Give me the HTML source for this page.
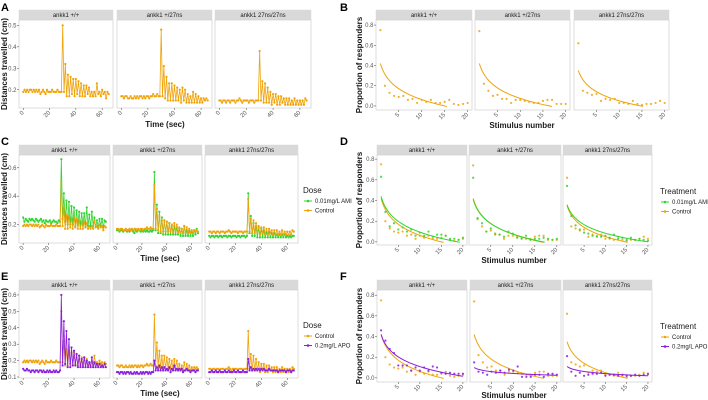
<!DOCTYPE html>
<html><head><meta charset="utf-8">
<style>
html,body{margin:0;padding:0;background:#fff;}
svg{display:block;font-family:"Liberation Sans",sans-serif;}
</style></head>
<body>
<svg id="fig" width="708" height="400" viewBox="0 0 708 400"></svg>
<script>
// ---------- data ----------
const genotypes = ["ankk1 +/+", "ankk1 +/27ns", "ankk1 27ns/27ns"];
const timeTicks = [0, 20, 40, 60];
const stimTicks = [5, 10, 15, 20];
const ctrlTime = [
[0.19,0.20,0.19,0.20,0.19,0.20,0.20,0.19,0.20,0.19,0.20,0.19,0.20,0.18,0.19,0.20,0.19,0.18,0.20,0.19,0.19,0.19,0.20,0.19,0.19,0.19,0.20,0.19,0.19,0.19,
 0.50,0.19,0.32,0.17,0.27,0.17,0.26,0.18,0.25,0.17,0.25,0.18,0.24,0.17,0.23,0.17,0.22,0.17,0.22,0.18,0.21,0.17,0.19,0.17,0.19,0.17,0.23,0.18,0.19,0.17,0.20,0.18,0.19,0.16,0.19,0.18],
[0.17,0.17,0.16,0.17,0.17,0.16,0.16,0.17,0.16,0.16,0.17,0.16,0.17,0.16,0.17,0.17,0.16,0.17,0.16,0.17,0.17,0.16,0.17,0.17,0.18,0.17,0.17,0.18,0.17,0.17,
 0.48,0.17,0.31,0.16,0.26,0.15,0.23,0.15,0.23,0.15,0.22,0.15,0.21,0.15,0.20,0.14,0.21,0.15,0.20,0.14,0.18,0.14,0.17,0.14,0.19,0.14,0.18,0.14,0.17,0.14,0.16,0.14,0.16,0.15,0.16,0.15],
[0.15,0.15,0.14,0.15,0.15,0.14,0.15,0.15,0.14,0.15,0.15,0.15,0.14,0.15,0.15,0.16,0.15,0.14,0.15,0.15,0.15,0.15,0.14,0.15,0.15,0.15,0.14,0.15,0.15,0.15,
 0.38,0.15,0.24,0.14,0.23,0.14,0.21,0.14,0.19,0.13,0.18,0.14,0.18,0.13,0.17,0.13,0.17,0.14,0.16,0.13,0.16,0.13,0.16,0.13,0.15,0.13,0.16,0.13,0.15,0.13,0.15,0.13,0.15,0.13,0.16,0.15]];
const amiTime = [
[0.25,0.22,0.24,0.23,0.22,0.24,0.23,0.24,0.23,0.22,0.24,0.23,0.22,0.23,0.24,0.22,0.23,0.21,0.23,0.22,0.22,0.23,0.21,0.22,0.23,0.22,0.22,0.21,0.23,0.22,
 0.66,0.24,0.42,0.22,0.37,0.20,0.36,0.20,0.33,0.20,0.32,0.19,0.30,0.20,0.29,0.19,0.28,0.20,0.28,0.19,0.32,0.19,0.27,0.18,0.29,0.19,0.25,0.18,0.23,0.18,0.24,0.19,0.24,0.18,0.23,0.22],
[0.16,0.16,0.15,0.16,0.16,0.15,0.16,0.16,0.15,0.16,0.15,0.16,0.16,0.15,0.14,0.16,0.15,0.16,0.16,0.15,0.16,0.15,0.16,0.15,0.16,0.15,0.15,0.16,0.15,0.16,
 0.57,0.16,0.34,0.14,0.29,0.14,0.25,0.13,0.23,0.13,0.22,0.13,0.21,0.13,0.19,0.13,0.19,0.13,0.18,0.13,0.17,0.12,0.17,0.12,0.19,0.12,0.16,0.12,0.16,0.12,0.15,0.12,0.16,0.13,0.17,0.14],
[0.12,0.11,0.12,0.12,0.11,0.12,0.12,0.11,0.12,0.12,0.11,0.12,0.12,0.12,0.11,0.12,0.12,0.11,0.12,0.12,0.12,0.11,0.12,0.12,0.11,0.12,0.12,0.12,0.11,0.12,
 0.42,0.14,0.26,0.12,0.21,0.12,0.19,0.11,0.18,0.11,0.17,0.11,0.16,0.11,0.15,0.11,0.15,0.11,0.14,0.11,0.14,0.11,0.13,0.11,0.13,0.11,0.13,0.11,0.13,0.11,0.12,0.11,0.12,0.11,0.12,0.12]];
const apoTime = [
[0.15,0.14,0.14,0.15,0.14,0.14,0.13,0.14,0.14,0.13,0.14,0.14,0.13,0.14,0.14,0.13,0.14,0.13,0.13,0.14,0.13,0.14,0.13,0.13,0.14,0.13,0.14,0.13,0.13,0.14,
 0.60,0.17,0.44,0.18,0.38,0.16,0.33,0.16,0.28,0.17,0.26,0.17,0.24,0.16,0.23,0.16,0.21,0.16,0.22,0.16,0.20,0.16,0.19,0.16,0.22,0.16,0.19,0.16,0.18,0.16,0.18,0.16,0.17,0.16,0.18,0.16],
[0.13,0.13,0.12,0.13,0.13,0.12,0.13,0.12,0.13,0.13,0.12,0.13,0.12,0.12,0.13,0.12,0.13,0.12,0.12,0.13,0.12,0.13,0.12,0.13,0.13,0.12,0.13,0.12,0.13,0.13,
 0.20,0.14,0.16,0.14,0.17,0.14,0.16,0.14,0.16,0.14,0.15,0.14,0.16,0.13,0.15,0.14,0.17,0.14,0.15,0.14,0.15,0.14,0.15,0.13,0.14,0.14,0.15,0.14,0.14,0.13,0.14,0.14,0.14,0.13,0.14,0.14],
[0.13,0.13,0.14,0.13,0.13,0.14,0.13,0.13,0.14,0.13,0.13,0.13,0.14,0.13,0.13,0.14,0.13,0.13,0.13,0.14,0.13,0.13,0.14,0.13,0.13,0.13,0.14,0.13,0.13,0.13,
 0.21,0.14,0.16,0.14,0.15,0.14,0.15,0.14,0.15,0.14,0.15,0.14,0.15,0.14,0.14,0.14,0.15,0.14,0.14,0.14,0.14,0.14,0.14,0.13,0.14,0.14,0.14,0.14,0.14,0.13,0.14,0.14,0.14,0.13,0.14,0.14]];
const ctrlResp = [
[0.75,0.20,0.13,0.10,0.09,0.10,0.06,0.07,0.03,0.06,0.04,0.06,0.03,0.03,0.04,0.06,0.02,0.01,0.02,0.03],
[0.74,0.22,0.15,0.10,0.11,0.07,0.07,0.03,0.06,0.06,0.05,0.04,0.03,0.03,0.05,0.06,0.06,0.02,0.02,0.02],
[0.62,0.15,0.13,0.11,0.12,0.05,0.07,0.06,0.07,0.03,0.03,0.02,0.05,0.02,0.01,0.02,0.02,0.03,0.05,0.03]];
const amiResp = [
[0.63,0.29,0.15,0.18,0.12,0.14,0.10,0.12,0.06,0.09,0.06,0.10,0.05,0.07,0.07,0.06,0.03,0.03,0.02,0.04],
[0.62,0.23,0.18,0.10,0.13,0.08,0.07,0.05,0.10,0.08,0.04,0.03,0.06,0.02,0.03,0.03,0.04,0.03,0.02,0.03],
[0.54,0.25,0.16,0.12,0.09,0.08,0.06,0.05,0.05,0.06,0.04,0.07,0.03,0.04,0.02,0.04,0.02,0.03,0.02,0.01]];
const apoResp = [
[0.46,0.36,0.28,0.24,0.12,0.12,0.12,0.07,0.10,0.07,0.10,0.07,0.11,0.10,0.05,0.04,0.05,0.04,0.04,0.04],
[0.15,0.06,0.05,0.03,0.06,0.05,0.07,0.05,0.08,0.07,0.11,0.01,0.01,0.01,0.03,0.03,0.01,0.04,0.04,0.03],
[0.21,0.06,0.02,0.05,0.02,0.03,0.04,0.04,0.05,0.02,0.03,0.03,0.02,0.03,0.02,0.02,0.03,0.02,0.03,0.04]];
// log-fit coefficients: y = a + b*ln(stimulus)
const ctrlFitA = [0.42, 0.42, 0.35];
const ctrlFitB = [-0.155, -0.15, -0.13];
const amiFitA = [0.44, 0.41, 0.36];
const amiFitB = [-0.15, -0.145, -0.12];
const apoFitA = [0.42, 0.10, 0.11];
const apoFitB = [-0.135, -0.025, -0.03];

const ORANGE = "#f0a30a", GREEN = "#2fd52f", PURPLE = "#8a1ee0";
const NS = "http://www.w3.org/2000/svg";
const svg = document.getElementById("fig");
function el(tag, attrs, parent, text) {
  const e = document.createElementNS(NS, tag);
  for (const k in attrs) e.setAttribute(k, attrs[k]);
  if (text !== undefined) e.textContent = text;
  (parent || svg).appendChild(e);
  return e;
}
function scale(d0, d1, r0, r1) { return v => r0 + (v - d0) / (d1 - d0) * (r1 - r0); }

function facetRow(cfg) {
  const g = el("g", {});
  
  
  cfg.panels.forEach((p, i) => {
    const pg = el("g", {}, g);
    
    
    const st = el("rect", {x: p[0], y: cfg.stripY, width: p[1] - p[0], height: cfg.plotTop - cfg.stripY, fill: "#d9d9d9", stroke: "#d9d9d9", "stroke-width": 0.5}, pg);
    
    
    const stt = el("text", {x: (p[0] + p[1]) / 2, y: cfg.plotTop - 2.8, "font-size": 6, fill: "#1a1a1a", "text-anchor": "middle"}, pg, genotypes[i]);
    
    
    const bg = el("rect", {x: p[0], y: cfg.plotTop, width: p[1] - p[0], height: cfg.plotBot - cfg.plotTop, fill: "#fff", stroke: "#d0d0d0", "stroke-width": 0.7}, pg);
    
    
    const sx = scale(cfg.xd[0], cfg.xd[1], p[0], p[1]);
    const sy = scale(cfg.yd[0], cfg.yd[1], cfg.plotBot, cfg.plotTop);
    cfg.xticks.forEach(t => {
      const x = sx(t);
      el("line", {x1: x, x2: x, y1: cfg.plotBot, y2: cfg.plotBot + 2, stroke: "#444", "stroke-width": 0.5}, pg);
      const tl = el("text", {x: x + 1, y: cfg.plotBot + 5, "font-size": 6, fill: "#555", "text-anchor": "end", transform: `rotate(-45 ${x + 1} ${cfg.plotBot + 5})`}, pg, String(t));
      
      
    });
    if (i === 0) {
      cfg.yticks.forEach(t => {
        const y = sy(t);
        el("line", {x1: p[0] - 2, x2: p[0], y1: y, y2: y, stroke: "#444", "stroke-width": 0.5}, pg);
        const yl = el("text", {x: p[0] - 2.5, y: y + 2, "font-size": 6, fill: "#555", "text-anchor": "end"}, pg, t.toFixed(1));
        
        
      });
    }
    cfg.draw(pg, i, sx, sy);
  });
  const xt = el("text", {x: cfg.xTitle[0], y: cfg.xTitle[1], "font-size": 8, "font-weight": "bold", fill: "#1a1a1a", "text-anchor": "middle"}, g, cfg.xTitleText);
  
  
  const cy = (cfg.plotTop + cfg.plotBot) / 2;
  const yt = el("text", {x: cfg.yTitleX, y: cy, "font-size": 8, "font-weight": "bold", fill: "#1a1a1a", "text-anchor": "middle", transform: `rotate(-90 ${cfg.yTitleX} ${cy})`}, g, cfg.yTitleText);
  
  
}

function timeSeries(pg, vals, color, sx, sy) {
  const pts = vals.map((v, t) => sx(t).toFixed(2) + "," + sy(v).toFixed(2)).join(" ");
  const pl = el("polyline", {points: pts, fill: "none", stroke: color, "stroke-width": 0.8}, pg);
  
  
  vals.forEach((v, t) => {
    const c = el("circle", {cx: sx(t), cy: sy(v), r: 1.1, fill: color}, pg);
    
    
  });
}
function respSeries(pg, vals, a, b, color, sx, sy) {
  vals.forEach((v, k) => {
    const c = el("circle", {cx: sx(k + 1), cy: sy(v), r: 1.1, fill: color, opacity: 0.85}, pg);
    
    
  });
  let pts = [];
  for (let x = 1; x <= 20; x += 0.25) {
    const y = a + b * Math.log(x);
    if (y < -0.005) break;
    pts.push(sx(x).toFixed(2) + "," + sy(y).toFixed(2));
  }
  const pl = el("polyline", {points: pts.join(" "), fill: "none", stroke: color, "stroke-width": 1}, pg);
  
  
}

function legend(x, y, title, entries, name) {
  const g = el("g", {});
  
  
  el("text", {x: x, y: y, "font-size": 8, fill: "#1a1a1a"}, g, title);
  entries.forEach((e, k) => {
    const yy = y + 10 + k * 9.5;
    el("line", {x1: x + 1, x2: x + 9, y1: yy - 2, y2: yy - 2, stroke: e[1], "stroke-width": 1}, g);
    el("circle", {cx: x + 5, cy: yy - 2, r: 1.3, fill: e[1]}, g);
    const t = el("text", {x: x + 12, y: yy, "font-size": 6, fill: "#1a1a1a"}, g, e[0]);
    
    
  });
}
function letter(x, y, s) {
  const t = el("text", {x: x, y: y, "font-size": 11, "font-weight": "bold", fill: "#000"}, svg, s);
  
  
}

const TX = [-3.25, 68.25], SX = [0.05, 20.95];
// Row A
facetRow({name: "panel-a", panels: [[19,113],[117,212],[215,311]], stripY: 10, plotTop: 20, plotBot: 108,
  xd: TX, yd: [0.115, 0.525], xticks: timeTicks, yticks: [0.2,0.3,0.4,0.5],
  xTitle: [165, 127], xTitleText: "Time (sec)", yTitleX: 7, yTitleText: "Distances travelled (cm)",
  draw: (pg, i, sx, sy) => timeSeries(pg, ctrlTime[i], ORANGE, sx, sy)});
// Row B
facetRow({name: "panel-b", panels: [[376,472],[475,570],[574,669]], stripY: 10, plotTop: 20, plotBot: 110,
  xd: SX, yd: [-0.04, 0.85], xticks: stimTicks, yticks: [0,0.2,0.4,0.6,0.8],
  xTitle: [522, 128], xTitleText: "Stimulus number", yTitleX: 362, yTitleText: "Proportion of responders",
  draw: (pg, i, sx, sy) => respSeries(pg, ctrlResp[i], ctrlFitA[i], ctrlFitB[i], ORANGE, sx, sy)});
// Row C
facetRow({name: "panel-c", panels: [[19,110],[113,202],[205,298]], stripY: 145, plotTop: 155, plotBot: 243,
  xd: TX, yd: [0.07, 0.69], xticks: timeTicks, yticks: [0.2,0.4,0.6],
  xTitle: [160, 261], xTitleText: "Time (sec)", yTitleX: 7, yTitleText: "Distances travelled (cm)",
  draw: (pg, i, sx, sy) => { timeSeries(pg, amiTime[i], GREEN, sx, sy); timeSeries(pg, ctrlTime[i], ORANGE, sx, sy); }});
legend(303, 193, "Dose", [["0.01mg/L AMI", GREEN], ["Control", ORANGE]], "legend-c");
// Row D
facetRow({name: "panel-d", panels: [[377,467],[469,561],[563,652]], stripY: 145, plotTop: 155, plotBot: 245,
  xd: SX, yd: [-0.03, 0.84], xticks: stimTicks, yticks: [0,0.2,0.4,0.6,0.8],
  xTitle: [514, 263], xTitleText: "Stimulus number", yTitleX: 362, yTitleText: "Proportion of responders",
  draw: (pg, i, sx, sy) => { respSeries(pg, ctrlResp[i], ctrlFitA[i], ctrlFitB[i], ORANGE, sx, sy); respSeries(pg, amiResp[i], amiFitA[i], amiFitB[i], GREEN, sx, sy); }});
legend(660, 194, "Treatment", [["0.01mg/L AMI", GREEN], ["Control", ORANGE]], "legend-d");
// Row E
facetRow({name: "panel-e", panels: [[19,110],[113,202],[205,298]], stripY: 280, plotTop: 290, plotBot: 378,
  xd: TX, yd: [0.094, 0.63], xticks: timeTicks, yticks: [0.1,0.2,0.3,0.4,0.5,0.6],
  xTitle: [160, 396], xTitleText: "Time (sec)", yTitleX: 7, yTitleText: "Distances travelled (cm)",
  draw: (pg, i, sx, sy) => { timeSeries(pg, ctrlTime[i], ORANGE, sx, sy); timeSeries(pg, apoTime[i], PURPLE, sx, sy); }});
legend(303, 328, "Dose", [["Control", ORANGE], ["0.2mg/L APO", PURPLE]], "legend-e");
// Row F
facetRow({name: "panel-f", panels: [[377,467],[470,561],[563,652]], stripY: 280, plotTop: 290, plotBot: 382,
  xd: SX, yd: [-0.04, 0.85], xticks: stimTicks, yticks: [0,0.2,0.4,0.6,0.8],
  xTitle: [514, 398], xTitleText: "Stimulus number", yTitleX: 362, yTitleText: "Proportion of responders",
  draw: (pg, i, sx, sy) => { respSeries(pg, ctrlResp[i], ctrlFitA[i], ctrlFitB[i], ORANGE, sx, sy); respSeries(pg, apoResp[i], apoFitA[i], apoFitB[i], PURPLE, sx, sy); }});
legend(660, 329, "Treatment", [["Control", ORANGE], ["0.2mg/L APO", PURPLE]], "legend-f");

letter(1, 11, "A"); letter(340, 11, "B");
letter(1, 145, "C"); letter(340, 145, "D");
letter(1, 280, "E"); letter(340, 280, "F");
</script>
</body></html>
